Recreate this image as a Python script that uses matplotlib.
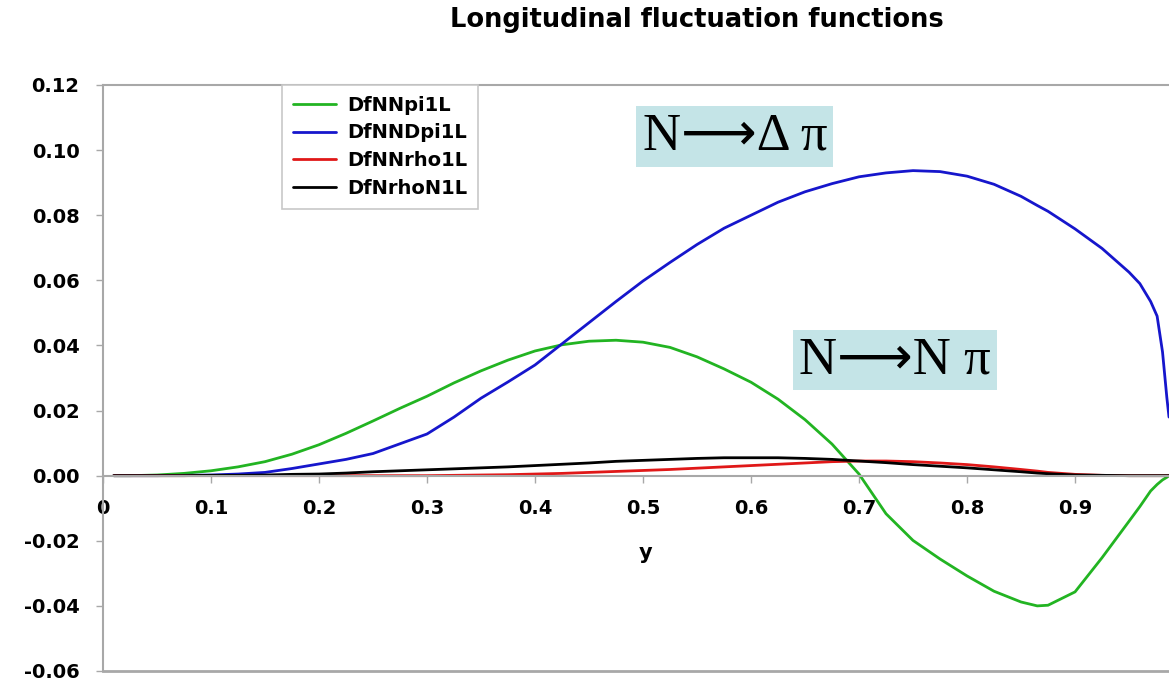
import matplotlib
matplotlib.use('Agg')
import matplotlib.pyplot as plt

# Values
y_vals = [0.01, 0.025, 0.05, 0.075, 0.1, 0.125, 0.15, 0.175, 0.2, 0.225, 0.25, 0.275,
          0.3, 0.325, 0.35, 0.375, 0.4, 0.425, 0.45, 0.475, 0.5, 0.525, 0.55, 0.575,
          0.6, 0.625, 0.65, 0.675, 0.7, 0.725, 0.75, 0.775, 0.8, 0.825, 0.85, 0.865, 0.875,
          0.9, 0.925, 0.95, 0.96, 0.97, 0.976, 0.981, 0.985, 0.987]

nn_pi = [0.0, 0.0, 0.0002, 0.0007, 0.0015, 0.0027, 0.0043, 0.0066, 0.0095, 0.0130, 0.0168, 0.0207,
         0.0244, 0.0285, 0.0322, 0.0355, 0.0383, 0.0402, 0.0413, 0.0416, 0.0410, 0.0394, 0.0365, 0.0328,
         0.0287, 0.0235, 0.0172, 0.0097, 0.0005, -0.0117, -0.0199, -0.0256, -0.0308, -0.0355, -0.0388, -0.0400, -0.0398,
         -0.0357, -0.0252, -0.0140, -0.0095, -0.0047, -0.0027, -0.0013, -0.0005, 0.0]

nnd_pi = [0.0, 0.0, 0.0, 0.0001, 0.0002, 0.0005, 0.0010, 0.0022, 0.0036, 0.0050, 0.0068, 0.0098,
          0.0128, 0.0180, 0.0238, 0.0288, 0.0340, 0.0405, 0.0470, 0.0535, 0.0598, 0.0655, 0.0710, 0.0760,
          0.0800, 0.0840, 0.0872, 0.0897, 0.0918, 0.0930, 0.0937, 0.0934, 0.0920, 0.0895, 0.0858, 0.0830, 0.0812,
          0.0758, 0.0698, 0.0625, 0.0590, 0.0535, 0.0490, 0.0380, 0.0240, 0.0180]

nn_rho = [0.0, 0.0, 0.0, 0.0, 0.0, 0.0, 0.0, 0.0, 0.0, 0.0, 0.0, 0.0,
          0.0, 0.0001, 0.0002, 0.0003, 0.0005, 0.0007, 0.0010, 0.0013, 0.0016, 0.0019, 0.0023, 0.0027,
          0.0031, 0.0035, 0.0039, 0.0043, 0.0045, 0.0045, 0.0043, 0.0039, 0.0034, 0.0027, 0.0019, 0.0014, 0.0010,
          0.0004, 0.0001, 0.0, 0.0, 0.0, 0.0, 0.0, 0.0, 0.0]

nrho_n = [0.0, 0.0, 0.0, 0.0, 0.0001, 0.0001, 0.0002, 0.0004, 0.0005, 0.0008, 0.0012, 0.0015,
          0.0018, 0.0021, 0.0024, 0.0027, 0.0031, 0.0035, 0.0039, 0.0044, 0.0047, 0.0050, 0.0053, 0.0055,
          0.0055, 0.0055, 0.0053, 0.0050, 0.0045, 0.0040, 0.0034, 0.0029, 0.0024, 0.0018, 0.0012, 0.0008, 0.0006,
          0.0002, 0.0001, 0.0, 0.0, 0.0, 0.0, 0.0, 0.0, 0.0]

series_names = ['DfNNpi1L', 'DfNNDpi1L', 'DfNNrho1L', 'DfNrhoN1L']
x_ticks = [0, 0.1, 0.2, 0.3, 0.4, 0.5, 0.6, 0.7, 0.8, 0.9]
y_ticks = [-0.06, -0.04, -0.02, 0.0, 0.02, 0.04, 0.06, 0.08, 0.10, 0.12]

colors = ['#22b422', '#1616cc', '#e01818', '#000000']
grey = '#a8a8a8'

fig = plt.figure(figsize=(11.69, 6.81), dpi=100)
ax = fig.add_axes([103 / 1169, 10 / 681, 1066 / 1169, 586 / 681])

for vals, name, c in zip([nn_pi, nnd_pi, nn_rho, nrho_n], series_names, colors):
    ax.plot(y_vals, vals, color=c, lw=2.0, label=name, solid_capstyle='round')

ax.set_xlim(0, 0.987)
ax.set_ylim(-0.06, 0.12)

# axes look like the old spreadsheet chart: x axis crosses at zero
ax.spines['right'].set_visible(False)
ax.spines['bottom'].set_position(('data', 0))
for s in ['left', 'top', 'bottom']:
    ax.spines[s].set_color(grey)
    ax.spines[s].set_linewidth(1.5)
ax.axhline(-0.06, color=grey, lw=2, clip_on=False)

ax.set_yticks(y_ticks)
ax.set_yticklabels([f'{v:.2f}' for v in y_ticks])
ax.set_xticks(x_ticks)
ax.set_xticklabels(['0'] + [f'{v:.1f}' for v in x_ticks[1:]])
ax.tick_params(axis='both', colors=grey, length=5, width=1)
ax.tick_params(axis='y', pad=12)
ax.tick_params(axis='x', pad=12)
for lab in ax.get_xticklabels() + ax.get_yticklabels():
    lab.set_color('black')
    lab.set_fontweight('bold')
    lab.set_fontsize(14)

ax.text(0.502, -0.0239, 'y', ha='center', va='center', fontsize=15, fontweight='bold')
fig.text(697 / 1169, 1 - 20 / 681, 'Longitudinal fluctuation functions',
         ha='center', va='center', fontsize=18.5, fontweight='bold')

leg = ax.legend(loc='upper left', bbox_to_anchor=(0.168, 1.0), borderaxespad=0,
                fancybox=False, framealpha=1, edgecolor='#c8c8c8',
                prop={'weight': 'bold', 'size': 14}, handlelength=2.2,
                labelspacing=0.45, borderpad=0.55, handletextpad=0.6)
leg.get_frame().set_linewidth(1.2)

box = dict(boxstyle='square,pad=0.12', fc='#c4e4e7', ec='none')
ax.text(0.585, 0.1041, 'N\u27f6\u0394 \u03c0', ha='center', va='center',
        fontsize=38, family=['Liberation Serif', 'DejaVu Sans'], bbox=box)
ax.text(0.733, 0.0355, 'N\u27f6N \u03c0', ha='center', va='center',
        fontsize=38, family=['Liberation Serif', 'DejaVu Sans'], bbox=box)

fig.savefig('out.png', dpi=100)
